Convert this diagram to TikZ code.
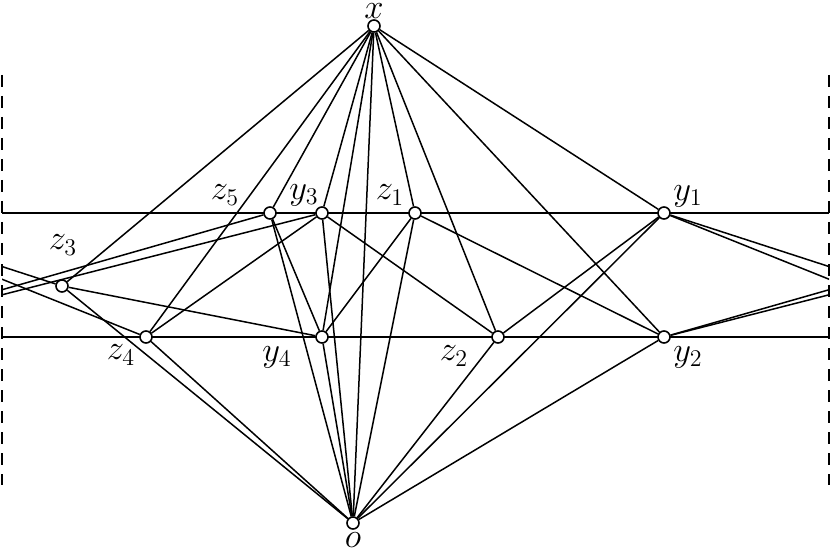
\documentclass[tikz,border=0pt]{standalone}
\usetikzlibrary{calc}
\pgfdeclarelayer{bg}
\pgfsetlayers{bg,main}
\begin{document}
\begin{tikzpicture}[x=0.5pt,y=-0.5pt,
  vtx/.style={circle,draw,fill=white,inner sep=0pt,minimum size=6pt,line width=0.8pt},
  edge/.style={line width=0.75pt},
  lbl/.style={font=\fontsize{17}{20}\selectfont, inner sep=0pt},
  bound/.style={line width=0.75pt,dash pattern=on 6pt off 4.5pt}]
\useasboundingbox (0,0) rectangle (831,551);
% vertices
\node[vtx] (x)  at (374,26) {};
\node[vtx] (o)  at (353,523) {};
\node[vtx] (z5) at (270,213) {};
\node[vtx] (y3) at (322,213) {};
\node[vtx] (z1) at (415,213) {};
\node[vtx] (y1) at (664,213) {};
\node[vtx] (z3) at (62,286) {};
\node[vtx] (z4) at (146,337) {};
\node[vtx] (y4) at (322,337) {};
\node[vtx] (z2) at (498,337) {};
\node[vtx] (y2) at (664,337) {};
% labels
\node[lbl] (lx)  at (374,11)  {$x$};
\node[lbl] (lo)  at (353,540) {$o$};
\node[lbl] (lz5) at (225,195) {$z_5$};
\node[lbl] (ly3) at (304,195) {$y_3$};
\node[lbl] (lz1) at (390,195) {$z_1$};
\node[lbl] (ly1) at (688,196) {$y_1$};
\node[lbl] (lz3) at (63,245)  {$z_3$};
\node[lbl] (lz4) at (121,355) {$z_4$};
\node[lbl] (ly4) at (277,357) {$y_4$};
\node[lbl] (lz2) at (454,356) {$z_2$};
\node[lbl] (ly2) at (688,357) {$y_2$};
% helper coordinates
\coordinate (hA1) at (2,213);
\coordinate (hA2) at (829,213);
\coordinate (hB1) at (2,337);
\coordinate (hB2) at (829,337);
\coordinate (dL1) at (2,75);
\coordinate (dL2) at (2,485);
\coordinate (dR1) at (829,75);
\coordinate (dR2) at (829,485);
\coordinate (z3g) at (889,286);
\coordinate (z4g) at (973,337);
\coordinate (z5g) at (1097,213);
\coordinate (y3g) at (1149,213);
\coordinate (y1g) at (-163,213);
\coordinate (y2g) at (-163,337);
\begin{pgfonlayer}{bg}
\draw[bound] (dL1) -- (dL2);
\draw[bound] (dR1) -- (dR2);
\draw[edge] (hA1) -- (hA2);
\draw[edge] (hB1) -- (hB2);
\foreach \v in {z3,z4,z5,y3,y4,o,z1,z2,y1,y2} \draw[edge] (x) -- (\v);
\foreach \v in {z3,z4,z5,y3,y4,z1,z2,y1,y2} \draw[edge] (o) -- (\v);
\draw[edge] (z3) -- (y4);
\draw[edge] (z4) -- (y3);
\draw[edge] (z5) -- (y4);
\draw[edge] (z1) -- (y4);
\draw[edge] (y3) -- (z2);
\draw[edge] (z1) -- (y2);
\draw[edge] (z2) -- (y1);
\begin{scope}
\clip (2,0) rectangle (829,551);
\draw[edge] (y1) -- (z3g); \draw[edge] (y1g) -- (z3);
\draw[edge] (y1) -- (z4g); \draw[edge] (y1g) -- (z4);
\draw[edge] (y2) -- (z5g); \draw[edge] (y2g) -- (z5);
\draw[edge] (y2) -- (y3g); \draw[edge] (y2g) -- (y3);
\end{scope}
\end{pgfonlayer}
\end{tikzpicture}
\end{document}
